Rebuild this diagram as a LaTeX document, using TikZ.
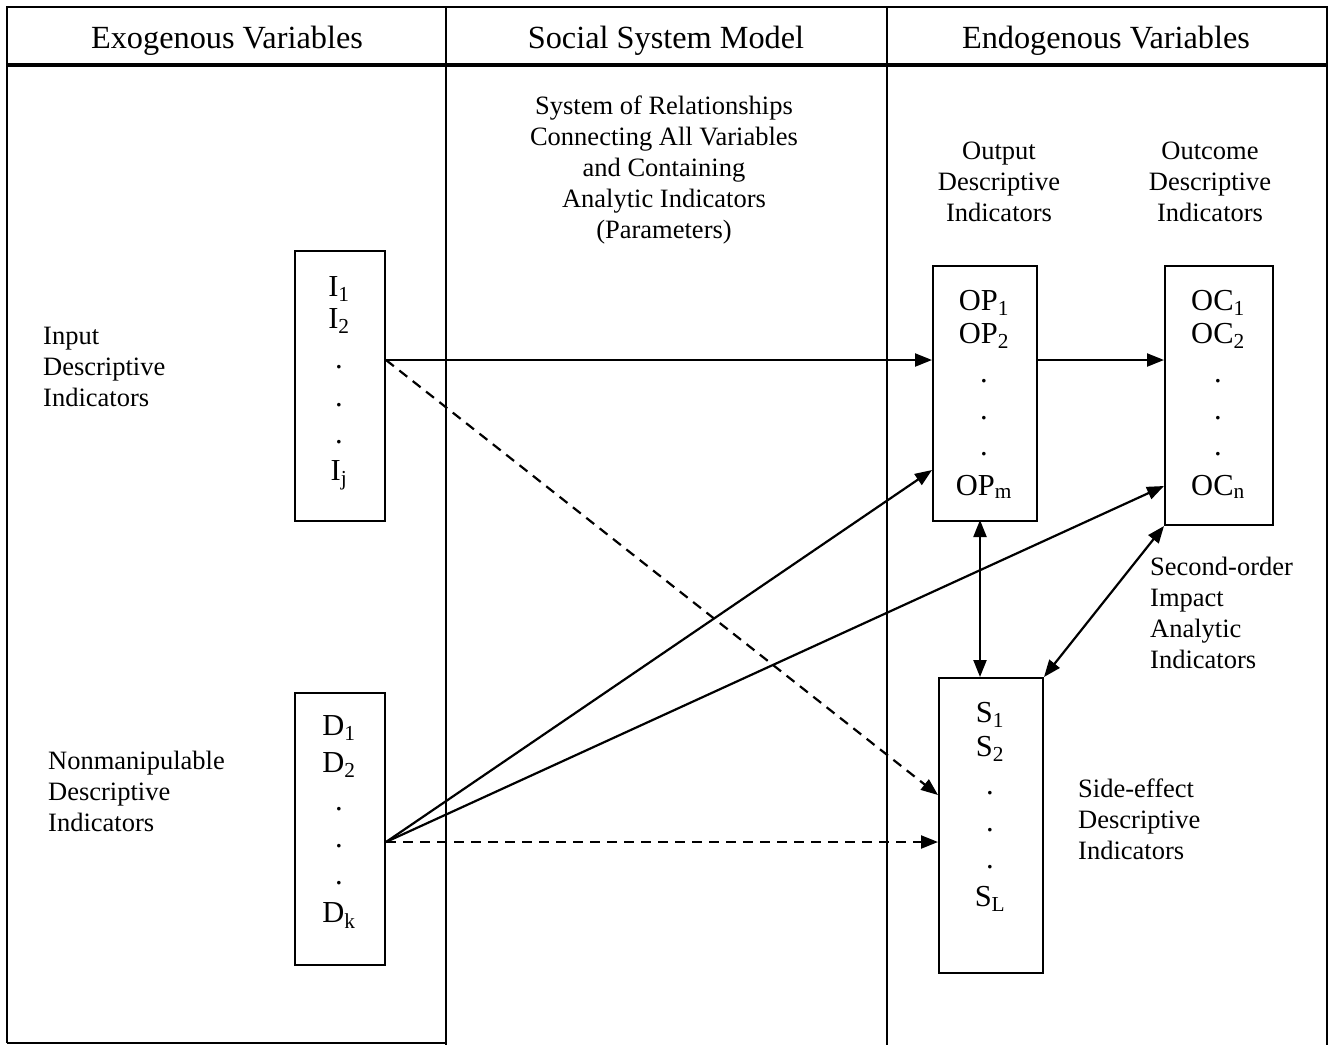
\documentclass[tikz,border=0pt]{standalone}
\usepackage{fontspec}
\setmainfont{Liberation Serif}
\usetikzlibrary{arrows.meta}
\begin{document}
\begin{tikzpicture}[x=1pt,y=-1pt,
  frame/.style={line width=2.2pt},
  headtext/.style={font=\fontsize{32.3}{36}\selectfont, anchor=base, inner sep=0pt},
  label/.style={font=\fontsize{26.5}{31}\selectfont, inner sep=0pt},
  varbox/.style={draw, line width=2pt, inner sep=0pt, anchor=north west},
  entry/.style={font=\fontsize{30.5}{36}\selectfont, anchor=base, inner sep=0pt},
  conn/.style={line width=2.2pt, -{Triangle[length=17pt,width=13pt]}},
  both/.style={line width=2.2pt, {Triangle[length=17pt,width=13pt]}-{Triangle[length=17pt,width=13pt]}},
  dconn/.style={conn, dash pattern=on 10pt off 7pt}
]
\useasboundingbox (0,0) rectangle (1333,1045);

% table frame
\draw[frame] (7,1043) -- (7,7) -- (1327,7) -- (1327,1045);
\draw[line width=3.8pt] (7,65) -- (1327,65);
\draw[line width=2.8pt] (446,7) -- (446,1045);
\draw[frame] (887,7) -- (887,1045);
\draw[frame] (7,1043) -- (446,1043);

% column headings
\node[headtext] (hexo) at (227,48) {Exogenous Variables};
\node[headtext] (hsys) at (666,48) {Social System Model};
\node[headtext] (hendo) at (1106,48) {Endogenous Variables};

% descriptive labels
\node[label, align=center, anchor=north] (sysrel) at (664,96)
  {System of Relationships\\Connecting All Variables\\and Containing\\Analytic Indicators\\(Parameters)};
\node[label, align=center, anchor=north] (outlab) at (999,142) {Output\\Descriptive\\Indicators};
\node[label, align=center, anchor=north] (ocl) at (1210,142) {Outcome\\Descriptive\\Indicators};
\node[label, align=left, anchor=north west] (inlab) at (43,327) {Input\\Descriptive\\Indicators};
\node[label, align=left, anchor=north west] (nmlab) at (48,751) {Nonmanipulable\\Descriptive\\Indicators};
\node[label, align=left, anchor=north west] (sol) at (1150,557) {Second-order\\Impact\\Analytic\\Indicators};
\node[label, align=left, anchor=north west] (sel) at (1078,779) {Side-effect\\Descriptive\\Indicators};

% variable boxes
\node[varbox, minimum width=90pt, minimum height=270pt] (ibox) at (294,250) {};
\node[varbox, minimum width=90pt, minimum height=272pt] (dbox) at (294,692) {};
\node[varbox, minimum width=104pt, minimum height=255pt] (opbox) at (932,265) {};
\node[varbox, minimum width=108pt, minimum height=259pt] (ocbox) at (1164,265) {};
\node[varbox, minimum width=104pt, minimum height=295pt] (sbox) at (938,677) {};

% box entries
\foreach \t/\y [count=\k] in {I\textsubscript{1}/296, I\textsubscript{2}/328, ./368, ./406, ./443, I\textsubscript{j}/480}
  \node[entry, name=i\k] at (339,\y) {\t};
\foreach \t/\y [count=\k] in {D\textsubscript{1}/735, D\textsubscript{2}/772, ./810, ./847, ./884, D\textsubscript{k}/922}
  \node[entry, name=d\k] at (339,\y) {\t};
\foreach \t/\y [count=\k] in {OP\textsubscript{1}/310, OP\textsubscript{2}/343, ./382, ./419, ./455, OP\textsubscript{m}/495}
  \node[entry, name=op\k] at (984,\y) {\t};
\foreach \t/\y [count=\k] in {OC\textsubscript{1}/310, OC\textsubscript{2}/343, ./382, ./419, ./455, OC\textsubscript{n}/495}
  \node[entry, name=oc\k] at (1218,\y) {\t};
\foreach \t/\y [count=\k] in {S\textsubscript{1}/722, S\textsubscript{2}/756, ./794, ./831, ./868, S\textsubscript{L}/906}
  \node[entry, name=s\k] at (990,\y) {\t};

% connector end points
\coordinate (isrc) at (ibox.east |- 0,360);
\coordinate (dsrc) at (dbox.east |- 0,842);
\coordinate (opin) at (opbox.west |- 0,360);
\coordinate (opout) at (opbox.east |- 0,360);
\coordinate (ocin) at (ocbox.west |- 0,360);
\coordinate (oplow) at (opbox.west |- 0,470);
\coordinate (oclow) at (ocbox.west |- 0,486);
\coordinate (sdiag) at (sbox.west |- 0,795);
\coordinate (shor) at (sbox.west |- 0,842);
\coordinate (opbot) at (980,520);
\coordinate (stop) at (980,677);

% connectors
\draw[conn] (isrc) -- (opin);
\draw[dconn] (isrc) -- (sdiag);
\draw[conn] (opout) -- (ocin);
\draw[conn] (dsrc) -- (oplow);
\draw[conn] (dsrc) -- (oclow);
\draw[dconn] (dsrc) -- (shor);
\draw[both] (opbot) -- (stop);
\draw[both] (ocbox.south west) -- (sbox.north east);
\end{tikzpicture}
\end{document}
